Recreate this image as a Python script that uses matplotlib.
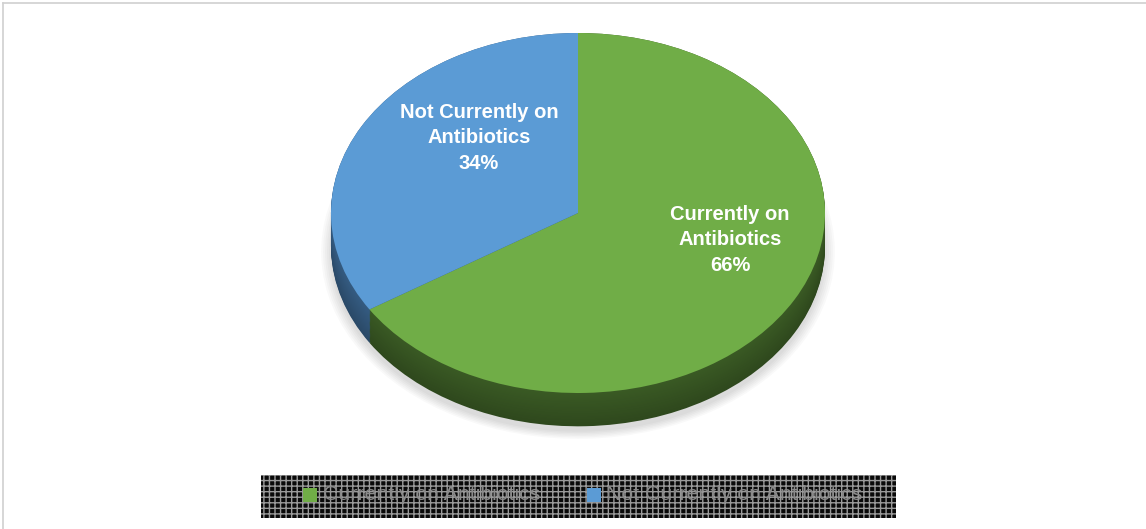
import matplotlib
matplotlib.use("Agg")
import matplotlib.pyplot as plt
from matplotlib.patches import Rectangle
from matplotlib.lines import Line2D
import numpy as np
from matplotlib import font_manager

categories = ["Currently on Antibiotics", "Not Currently on Antibiotics"]
label_lines = ["Currently on\nAntibiotics", "Not Currently on\nAntibiotics"]
values = [66, 34]
top_colors = ["#70ad47", "#5b9bd5"]
side_colors = ["#3a5a24", "#355c82"]

names = {f.name for f in font_manager.fontManager.ttflist}
fam = "Liberation Sans Narrow" if "Liberation Sans Narrow" in names else "Liberation Sans"

W, H = 1146, 529
fig = plt.figure(figsize=(W / 100, H / 100), dpi=100)

# frame lines
fig.add_artist(Line2D([3 / W, 1], [1 - 3 / H, 1 - 3 / H], color="#d0d0d0", lw=1.2))
fig.add_artist(Line2D([3 / W, 3 / W], [0, 1 - 3 / H], color="#d0d0d0", lw=1.2))

# pie axes
cx, a, top_y, b = 578, 247, 33, 180
depth = 0.185
ax_h = b * (2 + depth)
ax = fig.add_axes([(cx - a) / W, 1 - (top_y + ax_h) / H, 2 * a / W, ax_h / H])

# soft shadow
for s in np.linspace(1.04, 1.0, 6):
    ax.pie(values, radius=s, startangle=90, counterclock=False,
           center=(0, -depth - 0.03), colors=["#000000"] * 2,
           wedgeprops=dict(alpha=0.025, linewidth=0))

# side (layered)
n = 30
for t in np.linspace(depth, 0.0, n):
    frac = t / depth
    cols = []
    for c in side_colors:
        rgb = np.array(matplotlib.colors.to_rgb(c))
        rgb = rgb * (0.8 + 0.2 * (1 - frac))
        cols.append(tuple(np.clip(rgb, 0, 1)))
    ax.pie(values, startangle=90, counterclock=False, center=(0, -t),
           colors=cols, wedgeprops=dict(linewidth=0))

# top face
wedges, _ = ax.pie(values, startangle=90, counterclock=False, center=(0, 0),
                   colors=top_colors, wedgeprops=dict(linewidth=0))

ax.set_aspect("auto")
ax.set_xlim(-1, 1)
ax.set_ylim(-1 - depth, 1)
ax.axis("off")

# data labels
def px_to_data(px, py):
    x = (px - cx) / a
    y = -(py - (top_y + b)) / b
    return x, y

label_pos = [(730, 240), (479, 138)]
for lab, v, (px, py) in zip(label_lines, values, label_pos):
    x, y = px_to_data(px, py)
    ax.text(x, y, f"{lab}\n{v}%", ha="center", va="center", color="white",
            fontsize=14.5, fontweight="bold", family=fam, linespacing=1.45)

# legend box
lx0, ly0, lx1, ly1 = 261, 475, 896, 518
fig.add_artist(Rectangle((lx0 / W, 1 - ly1 / H), (lx1 - lx0) / W, (ly1 - ly0) / H,
                         facecolor="#0a0a0a", edgecolor="#9a9a9a", hatch="+++",
                         linewidth=0))
# marker x, text start x, text target width (px)
mk = [(303, 323, 218), (587, 606, 257)]
renderer = fig.canvas.get_renderer()
for (mx, tx, tw), c, name in zip(mk, top_colors, categories):
    fig.add_artist(Rectangle((mx / W, 1 - 502 / H), 14 / W, 14 / H,
                             facecolor=c, edgecolor="none"))
    t = fig.text(tx / W, 1 - 495 / H, name, ha="left", va="center", color="#8a8a8a",
                 fontsize=14, family=fam)
    w = t.get_window_extent(renderer).width
    t.set_fontsize(14 * tw / w)

fig.savefig("out.png", dpi=100)
